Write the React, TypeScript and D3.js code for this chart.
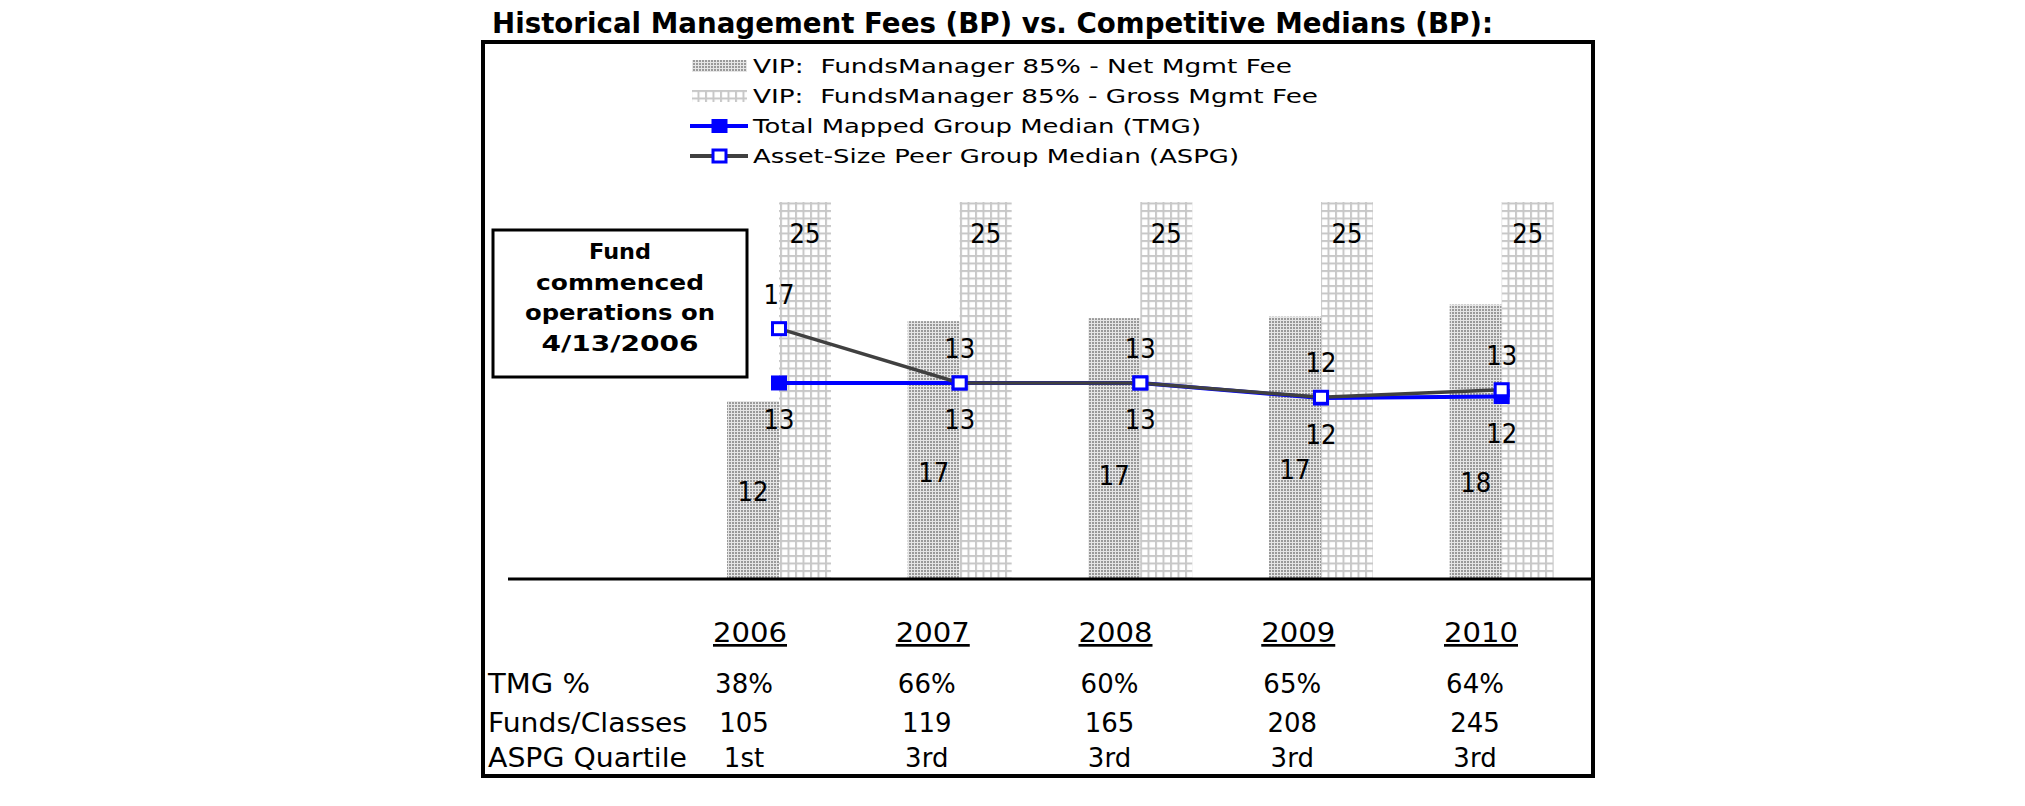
import React from 'react';
import * as d3 from 'd3';

// ---------- data ----------
const years = ['2006', '2007', '2008', '2009', '2010'];
const netFee = [11.8, 17.1, 17.3, 17.4, 18.2];
const grossFee = [25, 25, 25, 25, 25];
const tmgMedian = [13.0, 13.0, 13.0, 12.0, 12.1];
const aspgMedian = [16.6, 13.0, 13.0, 12.05, 12.55];
const tmgPct = ['38%', '66%', '60%', '65%', '64%'];
const fundsClasses = ['105', '119', '165', '208', '245'];
const aspgQuartile = ['1st', '3rd', '3rd', '3rd', '3rd'];
const rowLabels = ['TMG %', 'Funds/Classes', 'ASPG Quartile'];
const legendLabels = [
  'VIP:  FundsManager 85% - Net Mgmt Fee',
  'VIP:  FundsManager 85% - Gross Mgmt Fee',
  'Total Mapped Group Median (TMG)',
  'Asset-Size Peer Group Median (ASPG)',
];
const titleText = 'Historical Management Fees (BP) vs. Competitive Medians (BP):';
const noteLines = ['Fund', 'commenced', 'operations on', '4/13/2006'];

// ---------- layout ----------
const W = 2025;
const H = 806;
const FONT = '"DejaVu Sans", Verdana, sans-serif';
const frame = { x: 483, y: 42, w: 1110, h: 734 };
const plot = { left: 508, right: 1592, bottom: 579, top25: 202 };
const barW = 52;
const netLabelDy = [11, 32, 36, 31, 50];
const legendTextLen = [539, 565, 448, 486];
const noteTextLen = [62, 168, 190, 157];
const rowLabelLen = [102, 199, 199];
const rowBaselines = [693, 732, 767];

export default function App() {
  const x = d3.scaleBand<string>().domain(['', ...years]).range([plot.left, plot.right]).padding(0);
  const cx = (yr: string) => (x(yr) as number) + x.bandwidth() / 2;
  const y = d3.scaleLinear().domain([0, 25]).range([plot.bottom, plot.top25]);
  const tableX = d3.scalePoint<string>().domain(years).range([750, 1481]);

  const line = d3
    .line<number>()
    .x((_, i) => cx(years[i]))
    .y((d) => y(d));

  const blue = '#0000FF';
  const gray = '#404040';
  const mk = 16;

  const legendY = [66, 96, 126, 156];

  return (
    <svg
      width={W}
      height={H}
      style={{ position: 'absolute', left: 0, top: 0, background: '#fff' }}
      fontFamily={FONT}
    >
      <defs>
        <pattern id="netPat" width="3" height="3" patternUnits="userSpaceOnUse">
          <rect width="3" height="3" fill="#e6e6e6" />
          <rect width="2" height="2" fill="#9a9a9a" />
        </pattern>
        <pattern id="grossPat" width="7.5" height="7.5" patternUnits="userSpaceOnUse">
          <rect width="7.5" height="7.5" fill="#ffffff" />
          <rect width="2" height="7.5" fill="#c8c8c8" />
          <rect width="7.5" height="2" fill="#c8c8c8" />
        </pattern>
      </defs>
      <rect width={W} height={H} fill="#fff" />

      {/* title */}
      <text
        x={492}
        y={33}
        fontSize={28}
        fontWeight="bold"
        textLength={1001}
        lengthAdjust="spacingAndGlyphs"
      >
        {titleText}
      </text>

      {/* frame */}
      <rect x={frame.x} y={frame.y} width={frame.w} height={frame.h} fill="none" stroke="#000" strokeWidth={4} />

      {/* legend */}
      <g>
        <rect x={692} y={legendY[0] - 6} width={55} height={12} fill="url(#netPat)" />
        <rect x={692} y={legendY[1] - 6} width={55} height={12} fill="url(#grossPat)" />
        <line x1={690} x2={748} y1={legendY[2]} y2={legendY[2]} stroke={blue} strokeWidth={4} />
        <rect x={719.5 - 8} y={legendY[2] - 7} width={16} height={14} fill={blue} />
        <line x1={690} x2={748} y1={legendY[3]} y2={legendY[3]} stroke={gray} strokeWidth={4} />
        <rect x={719.5 - 6.5} y={legendY[3] - 6} width={13} height={12} fill="#fff" stroke={blue} strokeWidth={3} />
        {legendLabels.map((t, i) => (
          <text
            key={t}
            x={753}
            y={legendY[i] + 7}
            fontSize={19.5}
            textLength={legendTextLen[i]}
            lengthAdjust="spacingAndGlyphs"
            style={{ whiteSpace: 'pre' }}
          >
            {t}
          </text>
        ))}
      </g>

      {/* bars */}
      {years.map((yr, i) => (
        <g key={'bars' + yr}>
          <rect x={cx(yr) - barW} y={y(netFee[i])} width={barW} height={y(0) - y(netFee[i])} fill="url(#netPat)" />
          <rect x={cx(yr)} y={y(grossFee[i])} width={barW} height={y(0) - y(grossFee[i])} fill="url(#grossPat)" />
        </g>
      ))}

      {/* axis baseline */}
      <line x1={plot.left} x2={plot.right} y1={plot.bottom} y2={plot.bottom} stroke="#000" strokeWidth={3} />

      {/* bar labels */}
      {years.map((yr, i) => (
        <g key={'bl' + yr} fontSize={27} textAnchor="middle">
          <text x={cx(yr) + barW / 2} y={y(grossFee[i]) + 41} textLength={31} lengthAdjust="spacingAndGlyphs">
            {Math.round(grossFee[i])}
          </text>
          <text
            x={cx(yr) - barW / 2}
            y={(y(netFee[i]) + y(0)) / 2 + netLabelDy[i]}
            textLength={31}
            lengthAdjust="spacingAndGlyphs"
          >
            {Math.round(netFee[i])}
          </text>
        </g>
      ))}

      {/* TMG line */}
      <path d={line(tmgMedian) as string} fill="none" stroke={blue} strokeWidth={4} />
      {years.map((yr, i) => (
        <rect key={'tm' + yr} x={cx(yr) - mk / 2} y={y(tmgMedian[i]) - 7.5} width={mk} height={15} fill={blue} />
      ))}

      {/* ASPG line */}
      <path d={line(aspgMedian) as string} fill="none" stroke={gray} strokeWidth={3.5} />
      {years.map((yr, i) => (
        <rect
          key={'am' + yr}
          x={cx(yr) - 6.5}
          y={y(aspgMedian[i]) - 6}
          width={13}
          height={12}
          fill="#fff"
          stroke={blue}
          strokeWidth={3}
        />
      ))}

      {/* line labels */}
      {years.map((yr, i) => (
        <g key={'ll' + yr} fontSize={27} textAnchor="middle">
          <text x={cx(yr)} y={y(aspgMedian[i]) - 25} textLength={31} lengthAdjust="spacingAndGlyphs">
            {Math.round(aspgMedian[i])}
          </text>
          <text x={cx(yr)} y={y(tmgMedian[i]) + 46} textLength={31} lengthAdjust="spacingAndGlyphs">
            {Math.round(tmgMedian[i])}
          </text>
        </g>
      ))}

      {/* note box */}
      <rect x={493} y={230} width={254} height={147} fill="#fff" stroke="#000" strokeWidth={3} />
      {noteLines.map((t, i) => (
        <text
          key={t}
          x={620}
          y={259 + i * 30.5}
          fontSize={21}
          fontWeight="bold"
          textAnchor="middle"
          textLength={noteTextLen[i]}
          lengthAdjust="spacingAndGlyphs"
        >
          {t}
        </text>
      ))}

      {/* table */}
      {years.map((yr) => (
        <text
          key={'yh' + yr}
          x={tableX(yr)}
          y={642}
          fontSize={27}
          textAnchor="middle"
          textLength={74}
          lengthAdjust="spacingAndGlyphs"
          style={{ textDecoration: 'underline' }}
        >
          {yr}
        </text>
      ))}
      {rowLabels.map((t, r) => (
        <text
          key={t}
          x={488}
          y={rowBaselines[r]}
          fontSize={26}
          textLength={rowLabelLen[r]}
          lengthAdjust="spacingAndGlyphs"
          style={{ whiteSpace: 'pre' }}
        >
          {t}
        </text>
      ))}
      {[tmgPct, fundsClasses, aspgQuartile].map((row, r) =>
        row.map((v, i) => (
          <text
            key={'tv' + r + i}
            x={(tableX(years[i]) as number) - 6}
            y={rowBaselines[r]}
            fontSize={26}
            textAnchor="middle"
          >
            {v}
          </text>
        ))
      )}
    </svg>
  );
}
